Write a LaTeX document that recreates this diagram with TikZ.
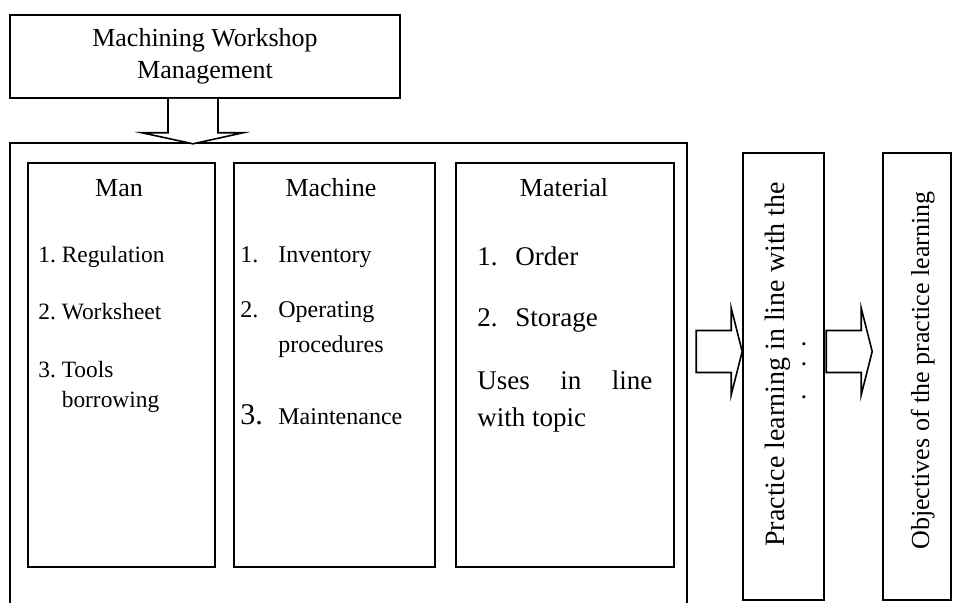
\documentclass[tikz,border=0pt]{standalone}
\usepackage{fontspec}
\setmainfont{Liberation Serif}
\usetikzlibrary{calc}

\tikzset{
  box/.style={draw, line width=0.8pt, inner sep=0pt},
  blockarrow/.style={draw, line width=0.8pt, fill=white, line join=miter},
  label/.style={inner sep=0pt, font=\fontsize{13}{16}\selectfont}
}

\begin{document}
\begin{tikzpicture}[x=0.5pt,y=-0.5pt]
    \useasboundingbox (0,0) rectangle (960,603);

    % title box
    \node[box, minimum width=195pt, minimum height=41.5pt, align=center,
          font=\fontsize{13}{16}\selectfont] (title) at (205,56.5)
          {Machining Workshop\\Management};

    % outer frame (runs off the bottom)
    \draw[line width=0.8pt] (10,604) |- (687,143) -- (687,604);

    % down arrow
    \coordinate (tip0) at ($(title.south)+(-12,45)$);
    \draw[blockarrow] ($(tip0)+(-25,-45)$) -- ++(0,34) -- ++(-26,0) -- (tip0)
        -- ++(50,-11) -- ++(-25,0) -- ++(0,-34);

    % the three columns
    \node[box, minimum width=93.5pt, minimum height=202pt] (man) at (121.5,365) {};
    \node[box, minimum width=100.5pt, minimum height=202pt] (machine) at (334.5,365) {};
    \node[box, minimum width=109pt, minimum height=202pt] (material) at (565,365) {};

    \node[label, anchor=base] (manhead) at (119,197) {Man};
    \node[label, anchor=base] (machinehead) at (331,197) {Machine};
    \node[label, anchor=base] (materialhead) at (564,197) {Material};

    \node[inner sep=0pt, anchor=base west, font=\fontsize{11.7}{15}\selectfont] (manlist) at (38,263)
      {\begin{tabular}[t]{@{}l@{\ }l@{}}
       1. & Regulation\\[13.5pt]
       2. & Worksheet\\[14pt]
       3. & Tools\\
          & borrowing
       \end{tabular}};

    \node[inner sep=0pt, anchor=base west, font=\fontsize{12}{17.5}\selectfont] (machinelist) at (240,263)
      {\begin{tabular}[t]{@{}l@{}l@{}}
       \makebox[19pt][l]{1.} & Inventory\\[10pt]
       \makebox[19pt][l]{2.} & Operating\\
                             & procedures\\[18.5pt]
       \makebox[19pt][l]{\fontsize{15}{17.5}\selectfont 3.} & Maintenance
       \end{tabular}};

    \node[inner sep=0pt, anchor=base west, font=\fontsize{13.5}{18.5}\selectfont] (materiallist) at (477,266)
      {\begin{tabular}[t]{@{}l@{}l@{}}
       \makebox[19pt][l]{1.} & Order\\[12pt]
       \makebox[19pt][l]{2.} & Storage\\[13pt]
       \multicolumn{2}{@{}l@{}}{\makebox[87.5pt][s]{Uses in line}}\\
       \multicolumn{2}{@{}l@{}}{with topic}
       \end{tabular}};

    % right hand boxes
    \node[box, minimum width=40.5pt, minimum height=223.5pt] (practice) at (783.5,376.5) {};
    \node[box, minimum width=34pt, minimum height=223.5pt] (objectives) at (917,376.5) {};

    \node[label, rotate=90, anchor=base west, font=\fontsize{14}{16}\selectfont] (practicetext) at (784,547)
      {Practice learning in line with the};
    \node[label, rotate=90, anchor=base west] (practicedots) at (805,547)
      {\hspace*{73pt}.\hspace{13.25pt}.\hspace{6.75pt}.};
    \node[label, rotate=90, anchor=base west] (objectivestext) at (929,550)
      {Objectives of the practice learning};

    % block arrows between them
    \coordinate (tip1) at (practice.west |- 0,351.5);
    \draw[blockarrow] (tip1) -- ++(-11,-43.5) -- ++(0,22.5) -- ++(-35,0) -- ++(0,42)
        -- ++(35,0) -- ++(0,22.5) -- cycle;
    \coordinate (tip2) at ($(objectives.west |- 0,351.5)+(-10,0)$);
    \draw[blockarrow] (tip2) -- ++(-11,-43.5) -- ++(0,22.5) -- ++(-35,0) -- ++(0,42)
        -- ++(35,0) -- ++(0,22.5) -- cycle;

\end{tikzpicture}
\end{document}
